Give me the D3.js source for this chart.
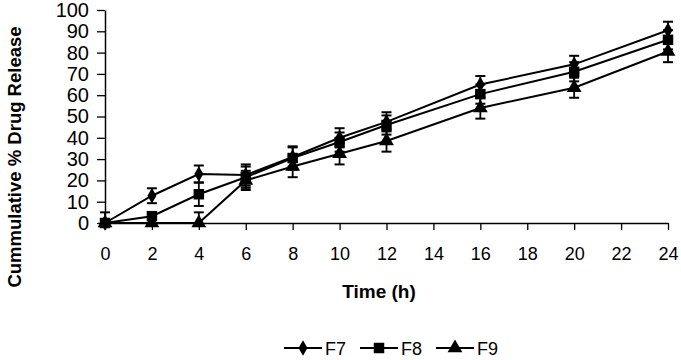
<!DOCTYPE html>
<html>
<head>
<meta charset="utf-8">
<script src="https://cdn.jsdelivr.net/npm/d3@7"></script>
<style>
  body { margin: 0; background: #fff; }
  svg { display: block; font-family: Arial, "Liberation Sans", sans-serif; }
</style>
</head>
<body>
<svg id="chart" width="681" height="360"></svg>
<script>
const times = [0, 2, 4, 6, 8, 10, 12, 16, 20, 24]
const seriesNames = ['F7', 'F8', 'F9']
const f7 = [0, 12.8, 23, 22.5, 31, 40, 47.5, 65, 74.5, 90.5]
const f8 = [0, 3.2, 13.5, 21.5, 30.5, 38, 46, 60.5, 71, 86]
const f9 = [0, 0, 0, 20, 26.5, 32.5, 38.5, 54, 63.5, 80.5]
const f7Err = [0, 3.5, 4, 5, 4.5, 4.5, 4.5, 4, 4, 4]
const f8Err = [5, 0, 5.5, 5, 5.5, 4.5, 4.5, 4.5, 4.5, 4.5]
const f9Err = [0, 0, 5, 4.5, 5, 5, 5, 5, 4.7, 5]
const xTicks = d3.range(0, 25, 2)
const yTicks = d3.range(0, 101, 10)

const svg = d3.select('#chart')
const margin = { left: 105, right: 13, top: 10, bottom: 137 }
const W = 681, H = 360

let x = d3.scaleLinear().domain([0, 24]).range([margin.left, W - margin.right])
let y = d3.scaleLinear().domain([0, 100]).range([H - margin.bottom, margin.top])

// axes
let xAxis = svg.append('g')
    .attr('transform', 'translate(0,' + y(0) + ')')
    .call(d3.axisBottom(x).tickValues(xTicks).tickSize(7).tickPadding(17).tickSizeOuter(0))
xAxis.select('.domain').attr('stroke', '#000').attr('stroke-width', 1.5)
xAxis.selectAll('.tick line').attr('stroke', '#000').attr('stroke-width', 1.3)
xAxis.selectAll('.tick text').attr('fill', '#000').style('font-size', '18px')

let yAxis = svg.append('g')
    .attr('transform', 'translate(' + x(0) + ',0)')
    .call(d3.axisLeft(y).tickValues(yTicks).tickSize(8).tickPadding(8).tickSizeOuter(0))
yAxis.select('.domain').attr('stroke', '#000').attr('stroke-width', 1.5)
yAxis.selectAll('.tick line').attr('stroke', '#000').attr('stroke-width', 1.3)
yAxis.selectAll('.tick text').attr('fill', '#000').style('font-size', '20px')

// axis titles
svg.append('text')
    .attr('x', 379)
    .attr('y', 298)
    .attr('text-anchor', 'middle')
    .style('font-size', '19px')
    .style('font-weight', 'bold')
    .text('Time (h)')

svg.append('text')
    .attr('transform', 'translate(21,' + 157 + ') rotate(-90)')
    .attr('text-anchor', 'middle')
    .style('font-size', '18.5px')
    .style('font-weight', 'bold')
    .text('Cummulative % Drug Release')

const symbols = [d3.symbolDiamond, d3.symbolSquare, d3.symbolTriangle]
const symSizes = [70, 110, 95]
const allValues = [f7, f8, f9]
const allErrs = [f7Err, f8Err, f9Err]

let line = d3.line()
    .x(d => x(d.t))
    .y(d => y(d.v))

allValues.forEach((vals, s) => {
    let data = times.map((t, i) => ({ t: t, v: vals[i], e: allErrs[s][i] }))
    let g = svg.append('g').attr('class', 'series-' + seriesNames[s])

    // error bars
    let eb = g.selectAll('.err')
        .data(data.filter(d => d.e > 0))
        .enter().append('g')
    eb.append('line')
        .attr('x1', d => x(d.t)).attr('x2', d => x(d.t))
        .attr('y1', d => y(d.v + d.e)).attr('y2', d => y(Math.max(0, d.v - d.e)))
        .attr('stroke', '#000').attr('stroke-width', 1.8)
    eb.append('line')
        .attr('x1', d => x(d.t) - 5).attr('x2', d => x(d.t) + 5)
        .attr('y1', d => y(d.v + d.e)).attr('y2', d => y(d.v + d.e))
        .attr('stroke', '#000').attr('stroke-width', 2)
    eb.filter(d => d.v - d.e > 0).append('line')
        .attr('x1', d => x(d.t) - 5).attr('x2', d => x(d.t) + 5)
        .attr('y1', d => y(d.v - d.e)).attr('y2', d => y(d.v - d.e))
        .attr('stroke', '#000').attr('stroke-width', 2)

    g.append('path')
        .datum(data)
        .attr('d', line)
        .attr('fill', 'none')
        .attr('stroke', '#000')
        .attr('stroke-width', 2)

    g.selectAll('.mark')
        .data(data)
        .enter().append('path')
        .attr('transform', d => 'translate(' + x(d.t) + ',' + y(d.v) + ')')
        .attr('d', d3.symbol().type(symbols[s]).size(symSizes[s]))
        .attr('fill', '#000')
})

// legend
let legend = svg.append('g').attr('transform', 'translate(284,348)')
let items = legend.selectAll('g')
    .data(seriesNames)
    .enter().append('g')
    .attr('transform', (d, i) => 'translate(' + (i * 76) + ',0)')
items.append('line')
    .attr('x1', 0).attr('x2', 38)
    .attr('stroke', '#000').attr('stroke-width', 2)
items.append('path')
    .attr('transform', 'translate(19,0)')
    .attr('d', (d, i) => d3.symbol().type(symbols[i]).size(symSizes[i])())
    .attr('fill', '#000')
items.append('text')
    .attr('x', 41)
    .attr('y', 6.5)
    .style('font-size', '18px')
    .text(d => d)
</script>
</body>
</html>
